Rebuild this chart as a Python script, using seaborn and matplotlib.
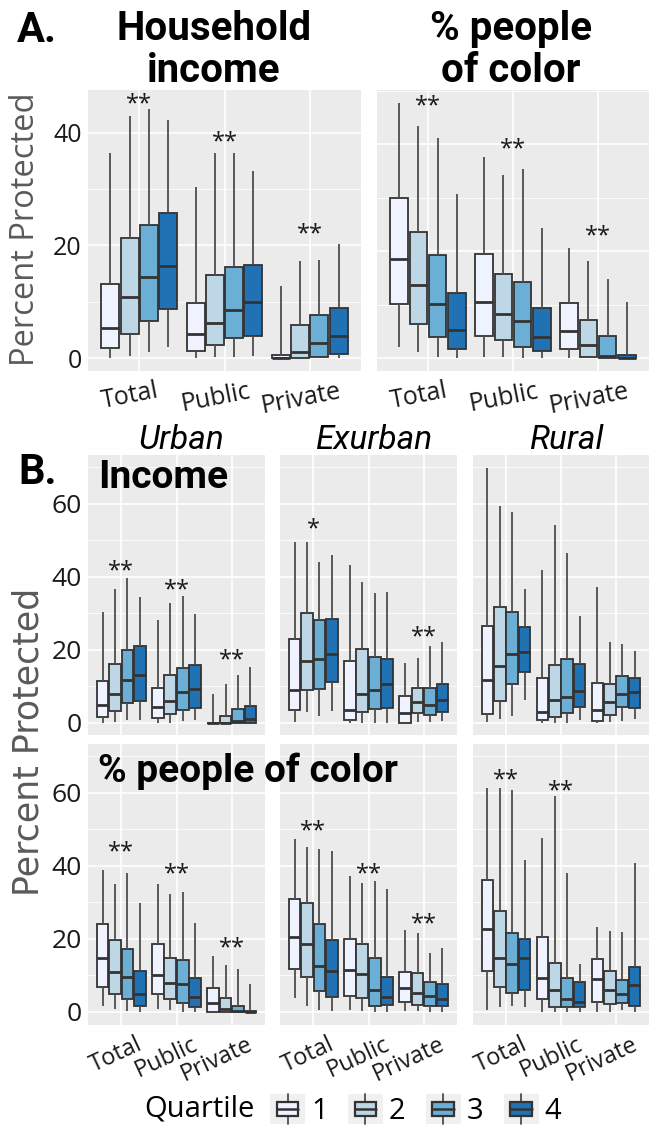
import numpy as np
import pandas as pd
import matplotlib
matplotlib.use("Agg")
import matplotlib.pyplot as plt
import seaborn as sns
from matplotlib.legend_handler import HandlerBase
from matplotlib.patches import Rectangle, Patch
from matplotlib.lines import Line2D
from matplotlib.ticker import MultipleLocator, FixedLocator
from matplotlib.transforms import ScaledTranslation

LAND = ["Total", "Public", "Private"]
QUARTILES = ["1", "2", "3", "4"]
COLORS = ["#eff3ff", "#bdd7e7", "#6baed6", "#2171b5"]

# Five-number summaries (low whisker, Q1, median, Q3, high whisker),
# ordered Total Q1..Q4, Public Q1..Q4, Private Q1..Q4.
income_all = [
    (0.0, 1.8, 5.3, 13.2, 36.4), (0.4, 4.2, 10.9, 21.4, 43.0),
    (1.0, 6.5, 14.4, 23.7, 44.3), (2.0, 8.7, 16.3, 25.8, 42.2),
    (0.0, 1.2, 4.2, 9.8, 30.4), (0.1, 2.3, 6.3, 14.7, 36.5),
    (0.1, 3.5, 8.6, 16.1, 36.5), (0.3, 4.0, 10.0, 16.6, 33.2),
    (0.0, 0.0, 0.0, 0.6, 12.8), (0.0, 0.0, 1.1, 5.8, 17.3),
    (0.0, 0.1, 2.6, 7.7, 17.5), (0.0, 0.7, 3.9, 8.8, 20.3),
]
poc_all = [
    (2.0, 10.1, 18.5, 30.0, 47.6), (1.2, 6.4, 13.7, 23.5, 43.4),
    (0.3, 3.9, 10.1, 19.2, 41.1), (0.0, 1.8, 5.2, 12.1, 30.7),
    (0.3, 4.2, 10.4, 19.4, 37.5), (0.3, 3.4, 8.2, 15.7, 34.3),
    (0.0, 2.1, 7.0, 14.2, 35.3), (0.0, 1.3, 4.0, 9.3, 24.4),
    (0.0, 1.7, 5.0, 10.3, 20.5), (0.0, 0.2, 2.4, 7.2, 18.2),
    (0.0, 0.0, 0.4, 4.2, 14.7), (0.0, 0.0, 0.0, 0.6, 10.4),
]
income_urban = [
    (0.0, 1.6, 5.0, 11.5, 30.4), (0.3, 3.3, 7.8, 16.2, 36.7),
    (0.9, 5.5, 11.7, 19.9, 39.7), (0.9, 6.0, 13.0, 21.1, 34.6),
    (0.0, 1.4, 4.3, 9.7, 28.3), (0.0, 2.4, 6.0, 13.2, 32.8),
    (0.5, 3.6, 8.4, 15.0, 34.9), (0.7, 4.2, 9.4, 15.8, 29.9),
    (0.0, 0.0, 0.0, 0.0, 8.0), (0.0, 0.0, 0.0, 1.9, 10.6),
    (0.0, 0.0, 0.5, 3.8, 13.0), (0.0, 0.0, 1.2, 4.6, 15.3),
]
income_exurban = [
    (0.3, 3.6, 9.1, 22.9, 49.7), (3.0, 8.9, 17.1, 30.1, 49.5),
    (1.8, 9.2, 17.4, 28.1, 44.0), (3.3, 11.3, 19.0, 28.5, 45.9),
    (0.0, 0.7, 3.6, 17.0, 43.3), (0.0, 3.0, 7.8, 20.3, 38.6),
    (0.0, 3.8, 9.1, 18.2, 35.6), (0.0, 4.2, 10.8, 17.4, 36.0),
    (0.0, 0.0, 2.6, 7.3, 16.5), (0.3, 2.6, 5.7, 9.7, 17.9),
    (0.3, 2.1, 4.9, 9.7, 21.0), (0.5, 3.0, 6.2, 10.8, 22.3),
]
income_rural = [
    (0.3, 2.4, 11.9, 26.5, 69.8), (1.2, 5.9, 15.5, 31.7, 59.3),
    (1.8, 10.8, 19.0, 30.4, 57.7), (6.4, 13.9, 19.4, 26.4, 36.7),
    (0.0, 0.7, 3.0, 12.2, 41.8), (0.0, 1.5, 6.2, 16.0, 54.1),
    (0.0, 2.6, 7.1, 17.4, 46.5), (0.7, 4.4, 8.8, 16.2, 29.2),
    (0.0, 0.5, 3.5, 10.9, 37.2), (0.3, 2.1, 5.8, 10.8, 22.2),
    (0.5, 4.4, 8.0, 12.9, 21.5), (1.2, 4.2, 8.5, 12.4, 19.7),
]
poc_urban = [
    (1.6, 6.7, 14.7, 24.1, 38.9), (0.9, 5.0, 11.0, 19.7, 35.0),
    (0.2, 3.5, 9.4, 17.2, 38.0), (0.0, 1.6, 4.8, 11.1, 29.9),
    (0.9, 5.0, 10.0, 18.6, 35.1), (0.5, 3.5, 7.8, 14.6, 32.2),
    (0.0, 2.5, 7.6, 14.3, 32.8), (0.0, 1.4, 4.1, 9.3, 24.3),
    (0.0, 0.0, 2.3, 6.4, 15.3), (0.0, 0.0, 0.9, 3.8, 12.8),
    (0.0, 0.0, 0.2, 1.6, 11.6), (0.0, 0.0, 0.0, 0.2, 7.6),
]
poc_exurban = [
    (3.7, 11.8, 20.4, 30.9, 47.2), (1.6, 9.6, 18.5, 29.8, 45.1),
    (0.5, 5.8, 12.5, 24.0, 44.7), (0.2, 4.1, 11.3, 19.7, 44.1),
    (0.5, 4.3, 11.4, 19.9, 37.1), (0.2, 3.8, 10.3, 18.5, 35.3),
    (0.0, 1.6, 6.1, 14.7, 35.7), (0.0, 1.8, 4.1, 9.6, 33.7),
    (0.2, 2.7, 6.4, 10.8, 22.4), (0.2, 2.0, 5.2, 10.7, 21.5),
    (0.0, 1.7, 4.4, 8.2, 16.2), (0.0, 1.6, 3.6, 7.5, 17.4),
]
poc_rural = [
    (0.6, 11.2, 22.6, 36.2, 61.2), (1.2, 6.7, 14.8, 27.7, 61.2),
    (1.6, 5.2, 13.1, 21.5, 60.6), (1.2, 6.1, 14.7, 19.9, 41.5),
    (0.0, 3.5, 9.3, 20.4, 47.6), (0.0, 1.4, 6.0, 13.5, 59.1),
    (0.0, 1.2, 3.4, 9.2, 38.0), (0.0, 1.4, 2.7, 8.2, 13.0),
    (0.0, 2.7, 9.0, 14.4, 23.2), (0.0, 2.1, 6.0, 11.3, 22.0),
    (0.5, 2.5, 5.0, 8.7, 21.9), (0.0, 1.6, 7.4, 12.4, 40.6),
]

# Significance marks: (land type, label, height in percent)
stars_income_all = [("Total", "**", 46.0), ("Public", "**", 39.2), ("Private", "**", 22.8)]
stars_poc_all = [("Total", "**", 47.9), ("Public", "**", 40.0), ("Private", "**", 23.6)]
stars_income_urban = [("Total", "**", 43.0), ("Public", "**", 37.6), ("Private", "**", 18.5)]
stars_income_exurban = [("Total", "*", 54.3), ("Private", "**", 24.9)]
stars_income_rural = []
stars_poc_urban = [("Total", "**", 44.9), ("Public", "**", 38.9), ("Private", "**", 18.8)]
stars_poc_exurban = [("Total", "**", 50.8), ("Public", "**", 39.1), ("Private", "**", 25.4)]
stars_poc_rural = [("Total", "**", 64.7), ("Public", "**", 61.8)]

BG = "#EBEBEB"
EDGE = "#333333"
FONT = ["Open Sans", "DejaVu Sans"]
TITLE_FONT = ["Roboto", "Open Sans", "DejaVu Sans"]

sns.set_theme(style="darkgrid", rc={
    "axes.facecolor": BG, "grid.color": "white",
    "axes.edgecolor": BG, "xtick.color": EDGE, "ytick.color": EDGE,
})
plt.rcParams["font.family"] = FONT
plt.rcParams["text.color"] = "black"

W, H = 653, 1134
fig = plt.figure(figsize=(W / 100, H / 100), dpi=100)
fig.patch.set_facecolor("white")


def rect(x0, y0, x1, y1):
    return [x0 / W, 1 - y1 / H, (x1 - x0) / W, (y1 - y0) / H]


def long_frame(boxes):
    rows = []
    for i, five in enumerate(boxes):
        for v in five:
            rows.append((LAND[i // 4], QUARTILES[i % 4], v))
    return pd.DataFrame(rows, columns=["land", "quartile", "pct"])


def panel(ax, boxes, stars, ylim, yticks, show_y=True, show_x=True,
          rot=0, xshift=0, ha="center", tick_size=18, label_size=18):
    df = long_frame(boxes)
    sns.boxplot(data=df, x="land", y="pct", hue="quartile", order=LAND,
                hue_order=QUARTILES, palette=COLORS, saturation=1,
                whis=(0, 100), width=0.9, gap=0.07, linecolor=EDGE,
                linewidth=1.3, showcaps=False, legend=False, ax=ax,
                medianprops={"linewidth": 2.0, "color": EDGE},
                whiskerprops={"color": "#4d4d4d", "linewidth": 1.3})
    ax.set_xlim(-0.6, 2.6)
    ax.set_ylim(*ylim)
    ax.yaxis.set_major_locator(FixedLocator(yticks))
    ax.yaxis.set_minor_locator(MultipleLocator(10))
    ax.grid(which="major", color="white", linewidth=1.2)
    ax.grid(which="minor", axis="y", color="white", linewidth=0.6)
    ax.grid(which="minor", axis="x", visible=False)
    ax.set_axisbelow(True)
    for s in ax.spines.values():
        s.set_visible(False)
    ax.set_xlabel("")
    ax.set_ylabel("")
    ax.tick_params(axis="y", which="minor", length=0)
    ax.tick_params(axis="y", which="major", length=3.5 if show_y else 0,
                   width=1, labelsize=tick_size, labelcolor="#1a1a1a", pad=1,
                   labelleft=show_y)
    ax.tick_params(axis="x", which="major", length=3.5 if show_x else 0,
                   width=1, labelsize=label_size, labelcolor="#1a1a1a", pad=2,
                   labelbottom=show_x)
    if show_x:
        for lab in ax.get_xticklabels():
            lab.set_rotation(rot)
            lab.set_ha(ha)
            if ha == "right":
                lab.set_rotation_mode("anchor")
            lab.set_transform(lab.get_transform() +
                              ScaledTranslation(xshift / 100, 0, fig.dpi_scale_trans))
    # the star glyph sits high in its line box, so nudge it down a little
    star_shift = ScaledTranslation(0, -5 / 100, fig.dpi_scale_trans)
    for land, mark, y in stars:
        ax.text(LAND.index(land), y, mark, ha="center", va="center",
                fontsize=17, color="#1a1a1a",
                transform=ax.transData + star_shift)


# Panel A: all areas
axA1 = fig.add_axes(rect(88, 90, 361, 371))
panel(axA1, income_all, stars_income_all, (-2.3, 47.6), [0, 20, 40],
      rot=11, xshift=-9)
axA2 = fig.add_axes(rect(377, 90, 649, 371))
panel(axA2, poc_all, stars_poc_all, (-2.4, 50.1), [0, 20, 40],
      show_y=False, rot=11, xshift=-9)

# Panel B: by urbanicity
cols = [(88, 265), (280, 457), (473, 649)]
row1 = (455, 735)
row2 = (744, 1025)
b_income = [income_urban, income_exurban, income_rural]
b_poc = [poc_urban, poc_exurban, poc_rural]
s_income = [stars_income_urban, stars_income_exurban, stars_income_rural]
s_poc = [stars_poc_urban, stars_poc_exurban, stars_poc_rural]
for j, (x0, x1) in enumerate(cols):
    ax = fig.add_axes(rect(x0, row1[0], x1, row1[1]))
    panel(ax, b_income[j], s_income[j], (-3.3, 73.4), [0, 20, 40, 60],
          show_y=(j == 0), show_x=False, tick_size=19)
    ax = fig.add_axes(rect(x0, row2[0], x1, row2[1]))
    panel(ax, b_poc[j], s_poc[j], (-3.6, 73.3), [0, 20, 40, 60],
          show_y=(j == 0), show_x=True, rot=25, ha="right", xshift=15,
          tick_size=19, label_size=17)


# Titles and labels
def ftext(x, y, s, **kw):
    fig.text(x / W, 1 - y / H, s, **kw)


ftext(17, 30, "A.", fontsize=30, fontweight="bold", ha="left", va="center",
      family=TITLE_FONT)
ftext(214, 50, "Household\nincome", fontsize=29, fontweight="bold",
      ha="center", va="center", linespacing=1.1, family=TITLE_FONT)
ftext(511, 50, "% people\nof color", fontsize=29, fontweight="bold",
      ha="center", va="center", linespacing=1.1, family=TITLE_FONT)
ftext(18, 473, "B.", fontsize=30, fontweight="bold", ha="left", va="center",
      family=TITLE_FONT)
for (x0, x1), name in zip(cols, ["Urban", "Exurban", "Rural"]):
    ftext((x0 + x1) / 2 + 5, 440, name, fontsize=24, fontstyle="italic",
          ha="center", va="center", family=TITLE_FONT)
ftext(98, 478, "Income", fontsize=28, fontweight="bold", ha="left",
      va="center", family=TITLE_FONT)
ftext(98, 771, "% people of color", fontsize=28, fontweight="bold",
      ha="left", va="center", family=TITLE_FONT)
ftext(26, 229, "Percent Protected", fontsize=23.5, color="#5a5a5a",
      rotation=90, ha="center", va="center")
ftext(29, 742, "Percent Protected", fontsize=25, color="#5a5a5a",
      rotation=90, ha="center", va="center", family=["DejaVu Sans"])


# Legend with boxplot-shaped keys
class BoxKey(HandlerBase):
    def create_artists(self, legend, orig_handle, xdescent, ydescent,
                       width, height, fontsize, trans):
        x0, y0 = -xdescent, -ydescent
        bg = Rectangle((x0, y0), width, height, facecolor="#f0f0f0",
                       edgecolor="none", transform=trans)
        bw = width * 0.62
        bx = x0 + (width - bw) / 2
        cx = x0 + width / 2
        lo, hi = y0 + height * 0.26, y0 + height * 0.74
        w1 = Line2D([cx, cx], [y0, lo], color="#4d4d4d", lw=1.3, transform=trans)
        w2 = Line2D([cx, cx], [hi, y0 + height], color="#4d4d4d", lw=1.3,
                    transform=trans)
        box = Rectangle((bx, lo), bw, hi - lo,
                        facecolor=orig_handle.get_facecolor(),
                        edgecolor=EDGE, lw=1.6, transform=trans)
        med = Line2D([bx, bx + bw], [y0 + height / 2] * 2, color=EDGE, lw=1.8,
                     transform=trans)
        return [bg, w1, w2, box, med]


handles = [Patch(facecolor=c) for c in COLORS]
fig.legend(handles, QUARTILES, handler_map={Patch: BoxKey()},
           loc="center left", bbox_to_anchor=(270 / W, 1 - 1110 / H),
           ncol=4, frameon=False, fontsize=21, handlelength=1.2,
           handleheight=1.2, handletextpad=0.2, columnspacing=0.7,
           borderaxespad=0, borderpad=0)
ftext(144, 1109, "Quartile", fontsize=21, ha="left", va="center")

fig.savefig("out.png", dpi=100)
